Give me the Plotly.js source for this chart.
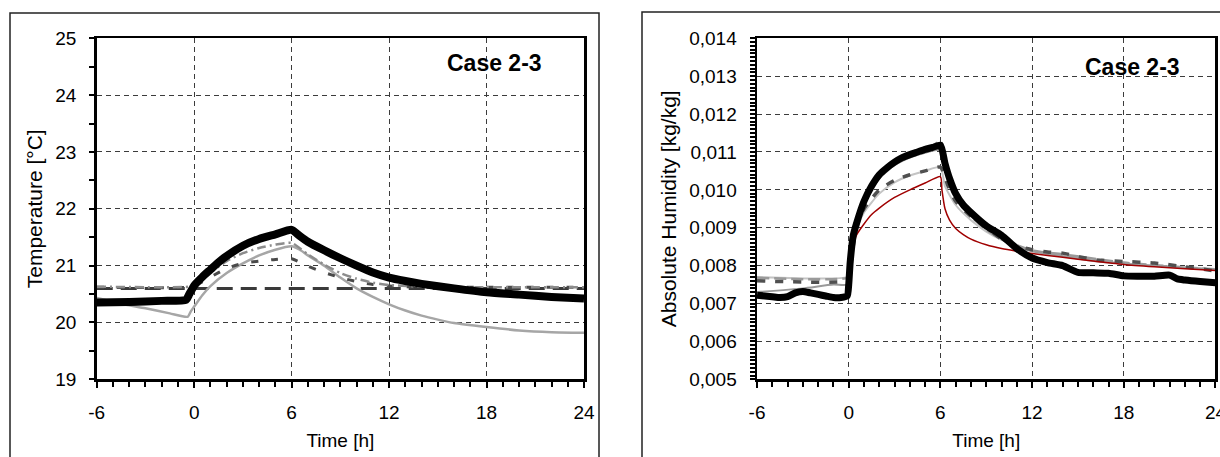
<!DOCTYPE html>
<html>
<head>
<meta charset="utf-8">
<script src="https://cdn.plot.ly/plotly-3.0.1.min.js"></script>
<style>html,body{margin:0;padding:0;background:#fff;}#chart{width:1220px;height:457px;}</style>
</head>
<body>
<div id="chart"></div>
<script>
// ---------- Axis ticks ----------
const xTickVals = [-6, 0, 6, 12, 18, 24];
const xTickText = ['-6', '0', '6', '12', '18', '24'];
const caseLabel = 'Case 2-3';

// ---------- Left panel: Temperature [°C] ----------
const tMeasT   = [-6,-4,-2,-0.5,-0.3,-0.1,0,0.5,1,1.5,2,3,4,5,6,6.5,7,8,9,10,11,12,13,14,16,18,20,22,24];
const tempMeas = [20.35,20.36,20.38,20.4,20.5,20.6,20.65,20.8,20.93,21.06,21.17,21.35,21.47,21.55,21.63,21.52,21.42,21.27,21.13,21.0,20.88,20.79,20.73,20.68,20.6,20.53,20.49,20.45,20.42];

const tSimAT   = [-6,-4.5,-3,-1.5,-0.4,-0.2,0,0.5,1,2,3,4,5,6,6.5,7,8,9,10,11,12,13,14,15,16,18,20,22,24];
const tempSimA = [20.43,20.33,20.25,20.16,20.1,20.2,20.28,20.48,20.64,20.87,21.04,21.18,21.28,21.34,21.28,21.18,21.0,20.79,20.6,20.45,20.32,20.21,20.12,20.05,19.99,19.92,19.86,19.83,19.82];

const tSetT    = [-6, 24];
const tempSet  = [20.6, 20.6];

const tSimBT   = [-6,-0.3,0,1,2,3,4,5,6,7,8,9,10,11,12,14,18,24];
const tempSimB = [20.62,20.62,20.64,20.8,20.95,21.04,21.08,21.11,21.12,20.99,20.88,20.79,20.72,20.67,20.64,20.62,20.62,20.62];

const tSimCT   = [-6,-0.3,0,1,2,3,4,5,6,7,8,9,10,11,12,14,18,24];
const tempSimC = [20.63,20.63,20.66,20.88,21.08,21.22,21.31,21.37,21.4,21.2,21.02,20.87,20.77,20.7,20.66,20.63,20.62,20.62];

// ---------- Right panel: Absolute humidity [kg/kg] ----------
const hMeasT   = [-6,-5,-4.5,-4,-3.5,-3,-2.5,-2,-1.5,-1,-0.5,-0.1,0,0.1,0.3,0.5,1,1.5,2,2.5,3,3.5,4,4.5,5,5.5,6,6.3,6.6,7,7.5,8,9,10,11,12,13,14,15,16,17,18,19,20,21,21.5,22,23,24];
const humMeas  = [0.00722,0.00718,0.00716,0.00718,0.00728,0.00732,0.00728,0.00724,0.0072,0.00716,0.00716,0.0072,0.0075,0.0081,0.0088,0.0091,0.0097,0.0101,0.0104,0.01058,0.01073,0.01085,0.01093,0.011,0.01107,0.01112,0.01118,0.0107,0.0103,0.0099,0.0096,0.0094,0.00905,0.0088,0.00845,0.0082,0.00808,0.008,0.00782,0.00781,0.0078,0.00773,0.00772,0.00772,0.00775,0.00765,0.00762,0.00758,0.00755];

const hRedT    = [0,0.2,0.5,1,1.5,2,3,4,5,6,6.1,6.3,6.6,7,7.5,8,9,10,11,12,14,16,18,20,22,24];
const humRed   = [0.0077,0.0084,0.0088,0.0091,0.00935,0.00952,0.0098,0.01,0.01018,0.01035,0.01,0.0095,0.0092,0.00898,0.00882,0.0087,0.00855,0.00845,0.00838,0.00832,0.00822,0.00812,0.00803,0.00797,0.00792,0.00787];

const hG1T     = [-6,-0.1,0,0.5,1,2,3,4,5,6,6.3,7,8,9,10,11,12,14,16,18,20,22,24];
const humG1    = [0.0077,0.0077,0.0078,0.0089,0.0094,0.0099,0.0102,0.01038,0.0105,0.0106,0.0101,0.0096,0.0092,0.0089,0.00868,0.00852,0.0084,0.00826,0.00815,0.00806,0.008,0.00795,0.0079];

const hG2T     = [-6,-3,-1,-0.1,0,0.5,1,2,3,4,5,6,6.5,7,8,9,10,11,12,14,16,18,20,22,24];
const humG2    = [0.0073,0.0074,0.0075,0.0075,0.0077,0.0091,0.0097,0.0103,0.01065,0.01085,0.01098,0.01105,0.0104,0.0099,0.0094,0.009,0.0087,0.0085,0.00838,0.00825,0.00812,0.00805,0.008,0.00795,0.0079];

const hG3T     = [-6,-0.1,0,0.5,1,2,3,4,5,6,6.5,7,8,9,10,11,12,13,14,16,18,20,22,24];
const humG3    = [0.0076,0.0076,0.0077,0.009,0.0095,0.01,0.01025,0.0104,0.0105,0.0106,0.0101,0.0097,0.0093,0.009,0.0087,0.00852,0.00842,0.00836,0.00833,0.00816,0.00811,0.00807,0.00797,0.00786];

const hG4T     = [-6,-0.1,0,0.5,1,2,3,4,5,6,6.5,7,8,9,10,12,14,18,24];
const humG4    = [0.00768,0.00768,0.0078,0.0092,0.0098,0.01035,0.0107,0.0109,0.011,0.01128,0.0105,0.0099,0.0093,0.00895,0.0087,0.0084,0.0083,0.00808,0.0079];

// ---------- Traces ----------
function tr(x, y, xa, ya, color, width, dash) {
  return {x: x, y: y, xaxis: xa, yaxis: ya, type: 'scatter', mode: 'lines',
          line: {color: color, width: width, dash: dash || 'solid', shape: 'spline', smoothing: 0.6},
          hoverinfo: 'skip', showlegend: false};
}

const traces = [
  tr(tSetT,  tempSet,  'x', 'y', '#3a3a3a', 3, '16px,8px'),
  tr(tSimAT, tempSimA, 'x', 'y', '#a6a6a6', 2.5),
  tr(tSimBT, tempSimB, 'x', 'y', '#4a4a4a', 3, '7px,13px'),
  tr(tSimCT, tempSimC, 'x', 'y', '#8c8c8c', 2.5, '9px,4px,2px,4px'),
  tr(tMeasT, tempMeas, 'x', 'y', '#000000', 8),

  tr(hG1T,  humG1,  'x2', 'y2', '#c4c4c4', 2),
  tr(hG2T,  humG2,  'x2', 'y2', '#9a9a9a', 2),
  tr(hG4T,  humG4,  'x2', 'y2', '#9a9a9a', 2.5, '12px,5px'),
  tr(hG3T,  humG3,  'x2', 'y2', '#505050', 3.5, '8px,10px'),
  tr(hRedT, humRed, 'x2', 'y2', '#a00000', 1.5),
  tr(hMeasT, humMeas, 'x2', 'y2', '#000000', 7)
];

const FONT = 'Arial, "Liberation Sans", sans-serif';
const gridStyle = {showgrid: true, gridcolor: '#3c3c3c', gridwidth: 1, griddash: '5px,4px'};

function xAxis(domain, anchor) {
  return Object.assign({
    domain: domain, anchor: anchor, range: [-6, 24], tickmode: 'array',
    tickvals: xTickVals, ticktext: xTickText, ticks: 'outside', ticklen: 6, tickwidth: 2,
    tickcolor: '#000', showline: true, linecolor: '#000', linewidth: 2.5, mirror: true,
    zeroline: false, ticklabelstandoff: 8, ticklabeloverflow: 'allow',
    minor: {tickmode: 'linear', tick0: 0, dtick: 1, ticks: 'outside', ticklen: 5, tickwidth: 2, tickcolor: '#000', showgrid: false},
    tickfont: {family: FONT, size: 19, color: '#000'},
    title: {text: 'Time [h]', font: {family: FONT, size: 19, color: '#000'}, standoff: 12}
  }, gridStyle);
}

const layout = {
  width: 1220, height: 457,
  margin: {l: 0, r: 0, t: 0, b: 0},
  paper_bgcolor: '#fff', plot_bgcolor: '#fff',
  separators: ',.',
  showlegend: false,
  xaxis: xAxis([0.0793, 0.4787], 'y'),
  xaxis2: xAxis([0.6205, 0.9963], 'y2'),
  yaxis: Object.assign({
    domain: [0.1700, 0.9162], anchor: 'x', range: [19, 25], dtick: 1, tick0: 19,
    ticks: 'outside', ticklen: 5, tickwidth: 2, tickcolor: '#000',
    showline: true, linecolor: '#000', linewidth: 2.5, mirror: true, zeroline: false,
    ticklabelstandoff: 9,
    minor: {tickmode: 'linear', tick0: 19, dtick: 0.5, ticks: 'outside', ticklen: 5, tickwidth: 2, tickcolor: '#000', showgrid: false},
    tickfont: {family: FONT, size: 19, color: '#000'},
    title: {text: 'Temperature [°C]', font: {family: FONT, size: 21, color: '#000'}, standoff: 7}
  }, gridStyle),
  yaxis2: Object.assign({
    domain: [0.1700, 0.9162], anchor: 'x2', range: [0.005, 0.014], dtick: 0.001, tick0: 0.005,
    tickformat: '.3f',
    ticks: 'outside', ticklen: 5, tickwidth: 2, tickcolor: '#000',
    showline: true, linecolor: '#000', linewidth: 2.5, mirror: true, zeroline: false,
    ticklabelstandoff: 9,
    minor: {tickmode: 'linear', tick0: 0.005, dtick: 0.0001, ticks: 'outside', ticklen: 5, tickwidth: 2, tickcolor: '#000', showgrid: false},
    tickfont: {family: FONT, size: 19, color: '#000'},
    title: {text: 'Absolute Humidity [kg/kg]', font: {family: FONT, size: 21, color: '#000'}, standoff: 7}
  }, gridStyle),
  shapes: [
    {type: 'rect', xref: 'paper', yref: 'paper', x0: 10/1220, x1: 599/1220, y0: -0.1, y1: 1 - 13/457,
     line: {color: '#222', width: 1.5}, fillcolor: 'rgba(0,0,0,0)', layer: 'below'},
    {type: 'rect', xref: 'paper', yref: 'paper', x0: 642/1220, x1: 1.1, y0: -0.1, y1: 1 - 12/457,
     line: {color: '#222', width: 1.5}, fillcolor: 'rgba(0,0,0,0)', layer: 'below'}
  ],
  annotations: [
    {xref: 'paper', yref: 'paper', x: 494/1220, y: 1 - 63/457, text: '<b>' + caseLabel + '</b>', showarrow: false,
     xanchor: 'center', yanchor: 'middle', font: {family: FONT, size: 23, color: '#000'}},
    {xref: 'paper', yref: 'paper', x: 1132/1220, y: 1 - 67/457, text: '<b>' + caseLabel + '</b>', showarrow: false,
     xanchor: 'center', yanchor: 'middle', font: {family: FONT, size: 23, color: '#000'}}
  ]
};

Plotly.newPlot('chart', traces, layout, {staticPlot: true, displayModeBar: false});
</script>
</body>
</html>
